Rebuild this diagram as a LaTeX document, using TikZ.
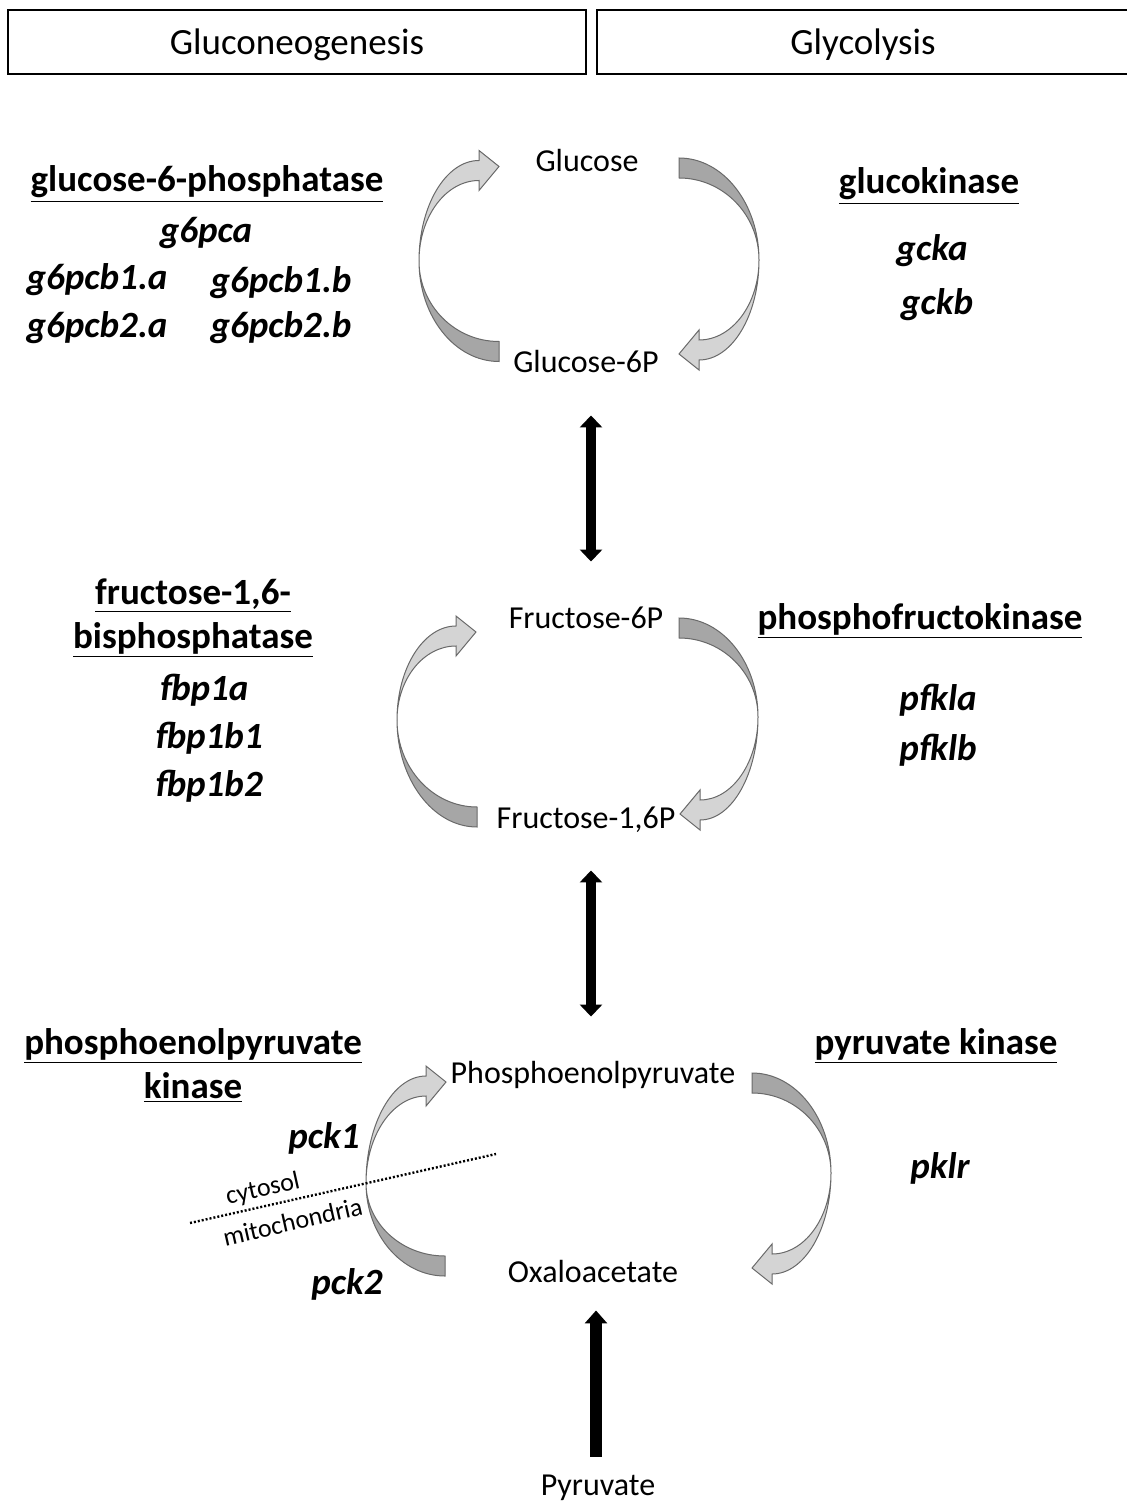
\documentclass[tikz,border=0pt]{standalone}
\usepackage{fontspec}
\setmainfont{Carlito}
\usetikzlibrary{arrows.meta}

\definecolor{bandfront}{RGB}{212,212,212}
\definecolor{bandback}{RGB}{166,166,166}
\definecolor{bandedge}{RGB}{105,105,105}

% ribbon arrow on the left side: crossing (#1,#2), head base (#3,#4), tail end (#5,#6)
\newcommand{\cycleleft}[6]{%
  \pgfmathsetmacro{\aT}{0.552*(#3-#1)}
  \pgfmathsetmacro{\bTo}{0.552*(#2-#4+10)}
  \pgfmathsetmacro{\bTi}{0.552*(#2-#4-10)}
  \pgfmathsetmacro{\aB}{0.552*(#5-#1)}
  \pgfmathsetmacro{\bBo}{0.552*(#6+10-#2)}
  \pgfmathsetmacro{\bBi}{0.552*(#6-10-#2)}
  \filldraw[backband] (#1,#2) .. controls (#1,{#2+\bBo}) and ({#5-\aB},{#6+10}) .. (#5,{#6+10})
    -- (#5,{#6-10}) .. controls ({#5-\aB},{#6-10}) and (#1,{#2+\bBi}) .. cycle;
  \filldraw[frontband] (#1,#2) .. controls (#1,{#2-\bTo}) and ({#3-\aT},{#4-10}) .. (#3,{#4-10})
    -- (#3,{#4-20}) -- ({#3+20},{#4-4}) -- (#3,{#4+20}) -- (#3,{#4+10})
    .. controls ({#3-\aT},{#4+10}) and (#1,{#2-\bTi}) .. cycle;
}
% ribbon arrow on the right side: crossing (#1,#2), tail end (#3,#4), head base (#5,#6)
\newcommand{\cycleright}[6]{%
  \pgfmathsetmacro{\aT}{0.552*(#1-#3)}
  \pgfmathsetmacro{\bTo}{0.552*(#2-#4+10)}
  \pgfmathsetmacro{\bTi}{0.552*(#2-#4-10)}
  \pgfmathsetmacro{\aB}{0.552*(#1-#5)}
  \pgfmathsetmacro{\bBo}{0.552*(#6+10-#2)}
  \pgfmathsetmacro{\bBi}{0.552*(#6-10-#2)}
  \filldraw[backband] (#1,#2) .. controls (#1,{#2-\bTo}) and ({#3+\aT},{#4-10}) .. (#3,{#4-10})
    -- (#3,{#4+10}) .. controls ({#3+\aT},{#4+10}) and (#1,{#2-\bTi}) .. cycle;
  \filldraw[frontband] (#1,#2) .. controls (#1,{#2+\bBo}) and ({#5+\aB},{#6+10}) .. (#5,{#6+10})
    -- (#5,{#6+20}) -- ({#5-20},{#6+4}) -- (#5,{#6-20}) -- (#5,{#6-10})
    .. controls ({#5+\aB},{#6-10}) and (#1,{#2+\bBi}) .. cycle;
}

\begin{document}
\begin{tikzpicture}[
            x=0.5pt, y=-0.5pt,
            header/.style={draw, line width=0.8pt, minimum height=32pt, inner sep=0pt, text height=16.5pt, text depth=4pt, font=\fontsize{18.5}{22}\selectfont},
            metab/.style={anchor=base, text height=11.5pt, text depth=3.5pt, font=\fontsize{16}{19}\selectfont},
            enzyme/.style={anchor=base, font=\fontsize{18.5}{22}\selectfont\bfseries},
            gene/.style={anchor=base, font=\fontsize{18.5}{22}\selectfont\bfseries\itshape},
            compart/.style={font=\fontsize{13}{16}\selectfont, sloped, inner sep=0.5pt},
            frontband/.style={fill=bandfront, draw=bandedge, line width=0.5pt},
            backband/.style={fill=bandback, draw=bandedge, line width=0.5pt},
            fatarrow/.style={line width=5pt, {Triangle[width=11pt,length=6pt]}-{Triangle[width=11pt,length=6pt]}},
            uparrow/.style={line width=6pt, -{Triangle[width=11pt,length=6.5pt]}},
            membrane/.style={line width=1.2pt, dash pattern=on 1pt off 1pt}
        ]
        \useasboundingbox (0,0) rectangle (1126,1502);

        % pathway headers
        \node[header, minimum width=289pt] (gng) at (297,42) {Gluconeogenesis};
        \node[header, minimum width=266pt] (gly) at (863,42) {Glycolysis};

        % metabolites
        \node[metab] (glc) at (587,172) {Glucose};
        \node[metab] (g6p) at (586,373) {Glucose-6P};
        \node[metab] (f6p) at (586,628) {Fructose-6P};
        \node[metab] (f16p) at (586,828) {Fructose-1,6P};
        \node[metab] (pep) at (593,1083) {Phosphoenolpyruvate};
        \node[metab] (oaa) at (593,1282) {Oxaloacetate};
        \node[metab] (pyr) at (598,1495) {Pyruvate};

        % cycle arrows
        \cycleleft{419}{261}{479}{170.5}{499}{351.5}
        \cycleright{759}{260}{679}{168}{699}{350}
        \cycleleft{397}{720}{456}{636}{477}{817}
        \cycleright{758}{717}{679}{628}{700}{810}
        \cycleleft{366}{1183}{426}{1086}{445}{1266}
        \cycleright{831}{1173}{752}{1083}{772}{1264}

        % enzymes and genes
        \node[enzyme] (g6pase) at (207,192) {\underline{glucose-6-phosphatase}};
        \node[gene] (g6pca) at (206,243) {g6pca};
        \node[gene] (g6pcb1a) at (97,290) {g6pcb1.a};
        \node[gene] (g6pcb1b) at (281,293) {g6pcb1.b};
        \node[gene] (g6pcb2a) at (97,338) {g6pcb2.a};
        \node[gene] (g6pcb2b) at (281,338) {g6pcb2.b};

        \node[enzyme] (gk) at (929,194) {\underline{glucokinase}};
        \node[gene] (gcka) at (932,261) {gcka};
        \node[gene] (gckb) at (937,315) {gckb};

        \node[enzyme] (fbpase1) at (193,604) {\underline{fructose-1,6-}};
        \node[enzyme] (fbpase2) at (193,648) {\underline{bisphosphatase}};
        \node[gene] (fbp1a) at (204,700) {fbp1a};
        \node[gene] (fbp1b1) at (209,748) {fbp1b1};
        \node[gene] (fbp1b2) at (209,796) {fbp1b2};

        \node[enzyme] (pfk) at (920,629) {\underline{phosphofructokinase}};
        \node[gene] (pfkla) at (938,710) {pfkla};
        \node[gene] (pfklb) at (938,760) {pfklb};

        \node[enzyme] (pepck1) at (193,1054) {\underline{phosphoenolpyruvate}};
        \node[enzyme] (pepck2) at (193,1098) {\underline{kinase}};
        \node[gene] (pck1) at (324,1148) {pck1};
        \node[gene] (pck2) at (347,1294) {pck2};

        \node[enzyme] (pk) at (936,1054) {\underline{pyruvate kinase}};
        \node[gene] (pklr) at (940,1178) {pklr};

        % cytosol / mitochondria border
        \coordinate (memleft) at (190,1223);
        \coordinate (memright) at (496,1154);
        \draw[membrane] (memleft) -- (memright)
            node[compart, pos=0.25, above=1.5pt] {cytosol}
            node[compart, pos=0.32, below=5pt] {mitochondria};

        % reversible steps
        \draw[fatarrow] ([xshift=2.5pt,yshift=-14.2pt]g6p.south) -- ([xshift=2.5pt,yshift=18.2pt]f6p.north);
        \draw[fatarrow] ([xshift=2.5pt,yshift=-14.2pt]f16p.south) -- ([xshift=-1pt,yshift=18.2pt]pep.north);
        \draw[uparrow] ([xshift=-1pt,yshift=4.2pt]pyr.north) -- ([xshift=1.5pt,yshift=-7.2pt]oaa.south);

    \end{tikzpicture}
\end{document}
